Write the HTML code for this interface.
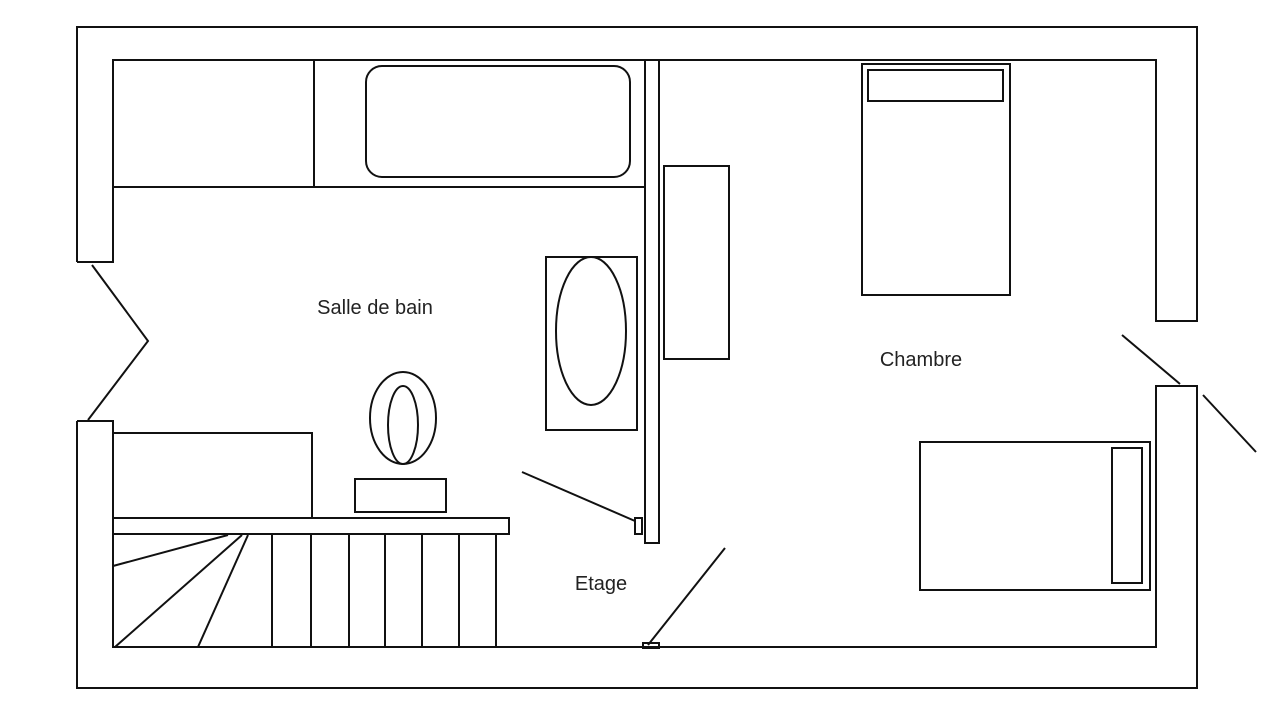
<!DOCTYPE html>
<html><head><meta charset="utf-8"><style>html,body{margin:0;padding:0;background:#fff}svg{display:block}text{font-family:"Liberation Sans",sans-serif;font-size:20px;fill:#222}</style></head>
<body>
<svg width="1280" height="720" viewBox="0 0 1280 720" xmlns="http://www.w3.org/2000/svg">
<rect width="1280" height="720" fill="#fff"/>
<g fill="none" stroke="#111" stroke-width="2">
<!-- outer walls -->
<polyline points="77,262 77,27 1197,27 1197,321 1156,321 1156,60 113,60 113,262 77,262"/>
<polyline points="77,421 113,421 113,647 1156,647 1156,386 1197,386 1197,688 77,688 77,421"/>
<!-- bathroom -->
<line x1="314" y1="60" x2="314" y2="187"/>
<line x1="113" y1="187" x2="645" y2="187"/>
<rect x="366" y="66" width="264" height="111" rx="16"/>
<rect x="645" y="60" width="14" height="483"/>
<rect x="546" y="257" width="91" height="173"/>
<ellipse cx="591" cy="331" rx="35" ry="74"/>
<rect x="664" y="166" width="65" height="193"/>
<!-- toilet -->
<ellipse cx="403" cy="418" rx="33" ry="46"/>
<ellipse cx="403" cy="425" rx="15" ry="39"/>
<rect x="355" y="479" width="91" height="33"/>
<!-- stairs -->
<polyline points="113,433 312,433 312,518"/>
<rect x="113" y="518" width="396" height="16"/>
<line x1="272" y1="534" x2="272" y2="647"/>
<line x1="311" y1="534" x2="311" y2="647"/>
<line x1="349" y1="534" x2="349" y2="647"/>
<line x1="385" y1="534" x2="385" y2="647"/>
<line x1="422" y1="534" x2="422" y2="647"/>
<line x1="459" y1="534" x2="459" y2="647"/>
<line x1="496" y1="534" x2="496" y2="647"/>
<line x1="113" y1="566" x2="228" y2="535"/>
<line x1="115" y1="647" x2="242" y2="535"/>
<line x1="198" y1="647" x2="248" y2="535"/>
<!-- doors -->
<polyline points="92,265 148,341 88,420"/>
<line x1="522" y1="472" x2="635" y2="521"/>
<rect x="635" y="518" width="7" height="16"/>
<line x1="648" y1="645" x2="725" y2="548"/>
<rect x="643" y="643" width="16" height="5"/>
<line x1="1122" y1="335" x2="1180" y2="384"/>
<line x1="1203" y1="395" x2="1256" y2="452"/>
<!-- beds -->
<rect x="862" y="64" width="148" height="231"/>
<rect x="868" y="70" width="135" height="31"/>
<rect x="920" y="442" width="230" height="148"/>
<rect x="1112" y="448" width="30" height="135"/>
</g>
<text x="375" y="314" text-anchor="middle">Salle de bain</text>
<text x="921" y="366" text-anchor="middle">Chambre</text>
<text x="601" y="590" text-anchor="middle">Etage</text>
</svg>
</body></html>
